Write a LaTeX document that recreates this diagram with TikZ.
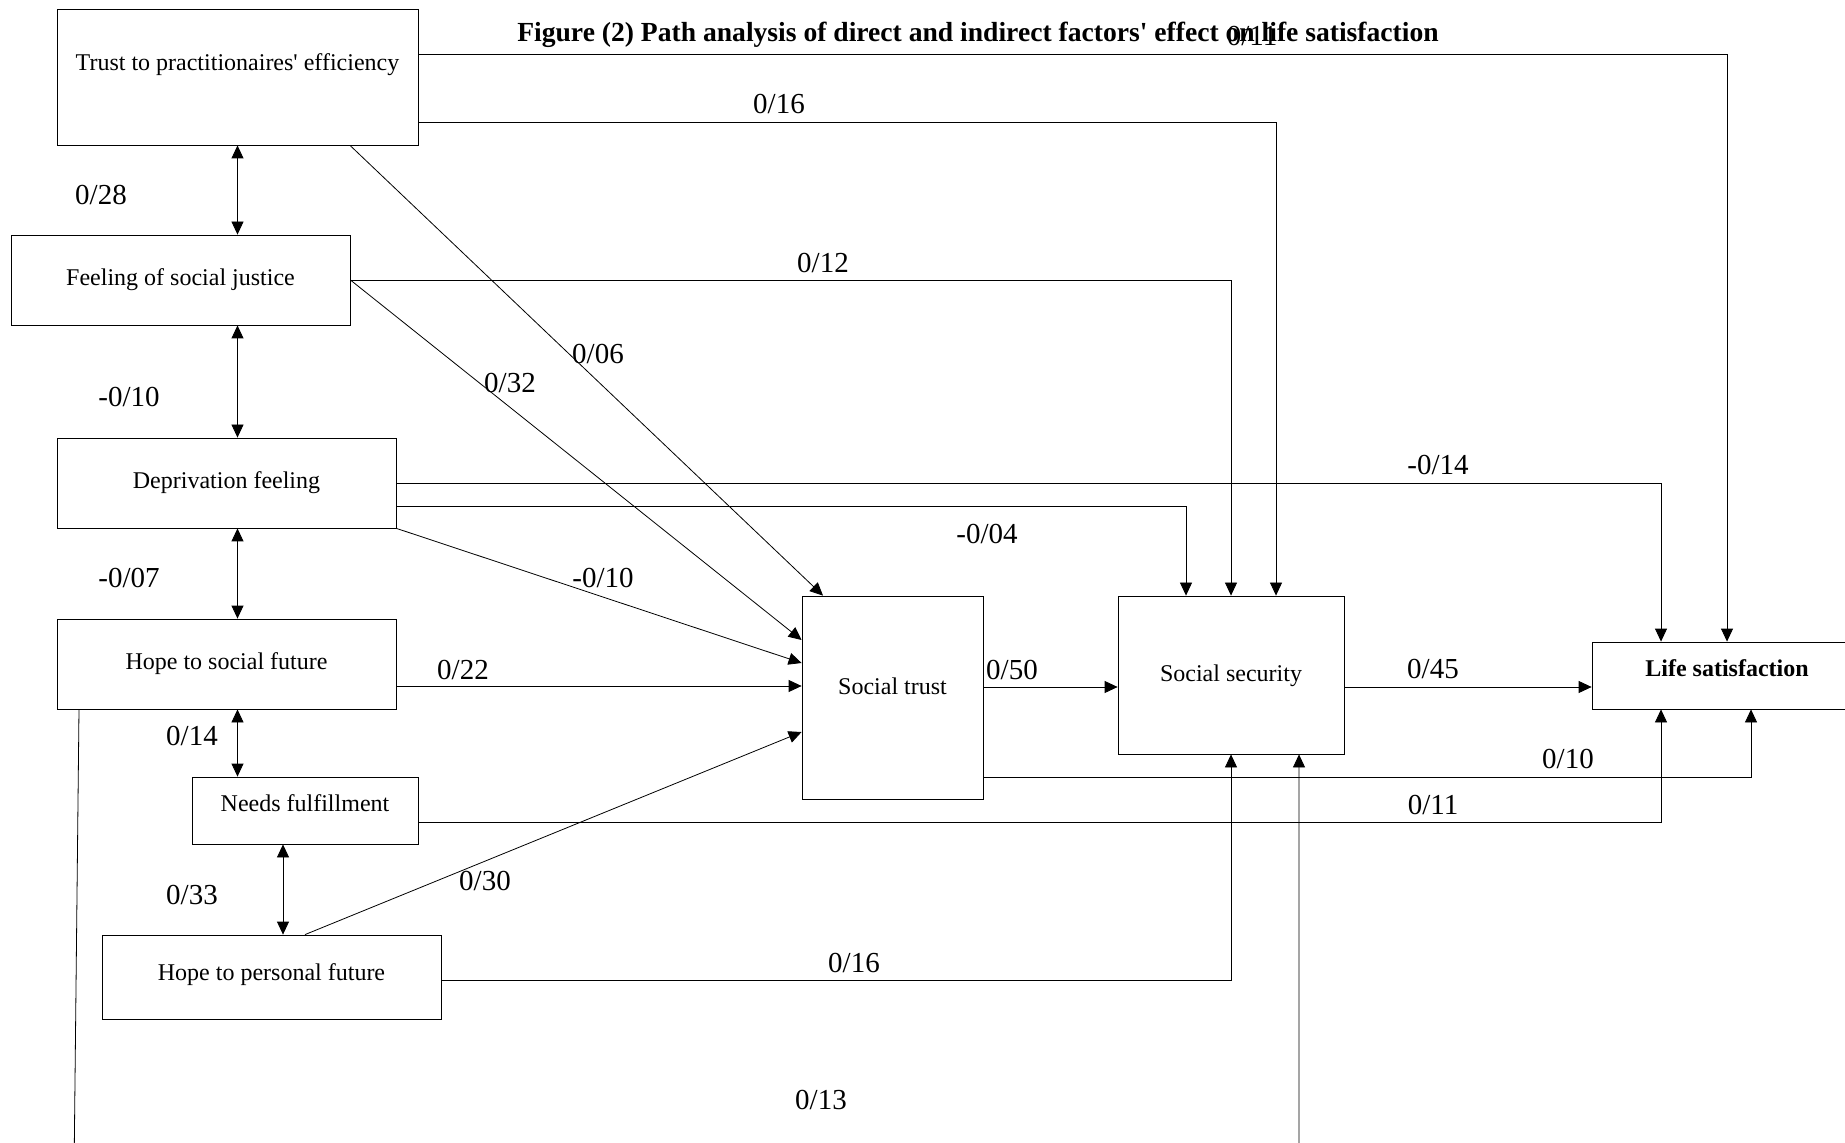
\documentclass[tikz,border=0pt]{standalone}
\usepackage{fontspec}
\setmainfont{Liberation Serif}
\usetikzlibrary{arrows.meta,calc}

\tikzset{
  x=0.5pt, y=-0.5pt, % one unit is one pixel of the scan, y runs down
  line width=0.9pt,
  box/.style={draw, rectangle, inner sep=0pt, align=center,
    font=\fontsize{12}{14}\selectfont, text height=8pt, text depth=2.5pt},
  lbl/.style={inner sep=0pt, font=\fontsize{14.5}{17}\selectfont},
  arr/.style={-{Triangle[length=6.5pt,width=6pt]}},
  dbl/.style={{Triangle[length=6.5pt,width=6pt]}-{Triangle[length=6.5pt,width=6pt]}},
}

\begin{document}
\begin{tikzpicture}
    \useasboundingbox (0,0) rectangle (1845,1143);

    % title
    \node[inner sep=0pt, font=\fontsize{13.8}{16}\selectfont\bfseries] (title) at (978,35)
        {Figure (2) Path analysis of direct and indirect factors\textquotesingle{} effect on life satisfaction};

    % predictors on the left
    \node[box, minimum width=180.5pt, minimum height=68pt, text depth=14pt] (T) at (237.5,77) {Trust to practitionaires\textquotesingle{} efficiency};
    \node[box, minimum width=169.5pt, minimum height=45pt] (F) at (180.5,280) {Feeling of social justice};
    \node[box, minimum width=169.5pt, minimum height=45pt] (D) at (226.5,483) {Deprivation feeling};
    \node[box, minimum width=169.5pt, minimum height=45pt] (HS) at (226.5,664) {Hope to social future};
    \node[box, minimum width=113pt, minimum height=33.5pt, text depth=7pt] (N) at (305,810.5) {Needs fulfillment};
    \node[box, minimum width=169.5pt, minimum height=42pt, text depth=5pt] (HP) at (271.5,977) {Hope to personal future};

    % mediators and outcome
    \node[box, minimum width=90.5pt, minimum height=101.5pt, text depth=11pt] (ST) at (892.5,697.5) {Social trust};
    \node[box, minimum width=113pt, minimum height=79pt, text depth=1.5pt] (SS) at (1231,675) {Social security};
    \node[box, minimum width=135pt, minimum height=33.5pt, text depth=7.5pt,
          font=\fontsize{12}{14}\selectfont\bfseries] (LS) at (1727,675.5) {Life satisfaction};

    % correlations between predictors
    \draw[dbl] (T.south) -- (T.south |- F.north);
    \draw[dbl] (T.south |- F.south) -- (T.south |- D.north);
    \draw[dbl] (T.south |- D.south) -- (T.south |- HS.north);
    \draw[dbl] (T.south |- HS.south) -- (T.south |- N.north);
    \draw[dbl] ([xshift=-11pt]N.south) -- ([xshift=-11pt]N.south |- HP.north);
    \node[lbl] (r1) at (101,195) {0/28};
    \node[lbl] (r2) at (129,397) {-0/10};
    \node[lbl] (r3) at (129,578) {-0/07};
    \node[lbl] (r4) at (192,736) {0/14};
    \node[lbl] (r5) at (192,895) {0/33};

    % paths from trust to practitionaires
    \draw[arr] ([yshift=11.5pt]T.east) -| (LS.north);
    \draw[arr] ([yshift=-22.5pt]T.east) -| ([xshift=22.5pt]SS.north);
    \draw[arr] ([xshift=56.25pt]T.south) -- ([xshift=-34.75pt]ST.north);
    \node[lbl] (p1) at (1252,36) {0/11};
    \node[lbl] (p2) at (779,104) {0/16};
    \node[lbl] (p3) at (598,354) {0/06};

    % paths from social justice
    \draw[arr] (F.east) -| (SS.north);
    \draw[arr] (F.east) -- ([yshift=28.75pt]ST.west);
    \node[lbl] (p4) at (823,263) {0/12};
    \node[lbl] (p5) at (510,383) {0/32};

    % paths from deprivation
    \draw[arr] (D.east) -| ([xshift=-33pt]LS.north);
    \draw[arr] ([yshift=-11.5pt]D.east) -| ([xshift=-22.5pt]SS.north);
    \draw[arr] (D.south east) -- ([yshift=17.25pt]ST.west);
    \node[lbl] (p6) at (1438,465) {-0/14};
    \node[lbl] (p7) at (987,534) {-0/04};
    \node[lbl] (p8) at (603,578) {-0/10};

    % paths from hope to social future
    \coordinate (hs1) at ([yshift=-11pt]HS.east);
    \draw[arr] (hs1) -- (hs1 -| ST.west);
    \node[lbl] (p9) at (463,670) {0/22};
    \coordinate (botL) at (74,1175);
    \coordinate (botR) at (1299,1175);
    \draw[arr] ([xshift=-73.75pt]HS.south) -- (botL) -- (botR) -- (botR |- SS.south);
    \node[lbl] (p10) at (821,1100) {0/13};

    % needs and personal future
    \draw[arr] ([yshift=-5.75pt]N.east) -| ([xshift=-33pt]LS.south);
    \node[lbl] (p11) at (1433,805) {0/11};
    \draw[arr] ([xshift=16.75pt]HP.north) -- ([yshift=-17.25pt]ST.west);
    \draw[arr] ([yshift=-1.5pt]HP.east) -| (SS.south);
    \node[lbl] (p12) at (485,881) {0/30};
    \node[lbl] (p13) at (854,963) {0/16};

    % mediators to outcome
    \coordinate (st1) at ([yshift=5.25pt]ST.east);
    \draw[arr] (st1) -- (st1 -| SS.west);
    \coordinate (ss1) at ([yshift=-6pt]SS.east);
    \draw[arr] (ss1) -- (ss1 -| LS.west);
    \draw[arr] ([yshift=-39.75pt]ST.east) -| ([xshift=12pt]LS.south);
    \node[lbl] (p14) at (1012,670) {0/50};
    \node[lbl] (p15) at (1433,669) {0/45};
    \node[lbl] (p16) at (1568,759) {0/10};
\end{tikzpicture}
\end{document}
